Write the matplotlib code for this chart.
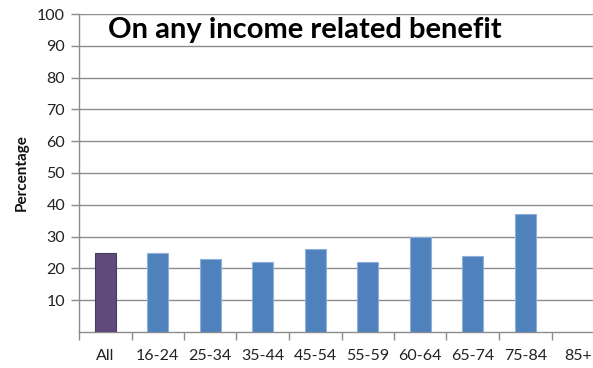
import matplotlib
matplotlib.use("Agg")
import matplotlib.pyplot as plt
import numpy as np

categories = ["All", "16-24", "25-34", "35-44", "45-54", "55-59", "60-64", "65-74", "75-84", "85+"]
values = [25, 25, 23, 22, 26, 22, 30, 24, 37, np.nan]
bar_colors = ["#604A7B"] + ["#4F81BD"] * 9
edge_colors = ["#4B3A60"] + ["#8FB0D8"] * 9
yticks = [10, 20, 30, 40, 50, 60, 70, 80, 90, 100]
title = "On any income related benefit"
ylabel = "Percentage"

plt.rcParams['font.family'] = ['Lato', 'DejaVu Sans']

fig = plt.figure(figsize=(5.93, 3.68), dpi=100)
W, H = 593, 368
left, right = 79, 604
top, bottom = 14, 332
ax = fig.add_axes([left / W, 1 - bottom / H, (right - left) / W, (bottom - top) / H])

x = np.arange(len(categories))
ax.bar(x, values, width=0.4, color=bar_colors, edgecolor=edge_colors, linewidth=0.8, zorder=3)

ax.set_xlim(-0.5, len(categories) - 0.5)
ax.set_ylim(0, 100)
ax.set_yticks(yticks)
ax.set_yticklabels([str(t) for t in yticks], fontsize=11.5, color="#222222")
ax.yaxis.grid(True, color="#8C8C8C", linewidth=1.0, zorder=0)
ax.set_axisbelow(True)

ax.set_xticks(x)
ax.set_xticklabels(categories, fontsize=11.5, color="#222222")
ax.set_xticks(np.arange(len(categories)) - 0.5, minor=True)
ax.tick_params(axis='x', which='major', length=0, pad=12)
ax.tick_params(axis='x', which='minor', length=6, color="#8C8C8C", width=1)
ax.tick_params(axis='y', length=6, color="#8C8C8C", width=1, pad=4)

for s in ["top", "right"]:
    ax.spines[s].set_visible(False)
for s in ["left", "bottom"]:
    ax.spines[s].set_color("#8C8C8C")
    ax.spines[s].set_linewidth(1.0)

fig.text(22 / W, 1 - 173 / H, ylabel, rotation=90, fontsize=11, fontweight="bold",
         ha="center", va="center", color="#111111")
fig.text(305 / W, 1 - 30 / H, title, fontsize=21, fontweight="bold",
         ha="center", va="center", color="#000000")

fig.savefig("out.png", dpi=100)
